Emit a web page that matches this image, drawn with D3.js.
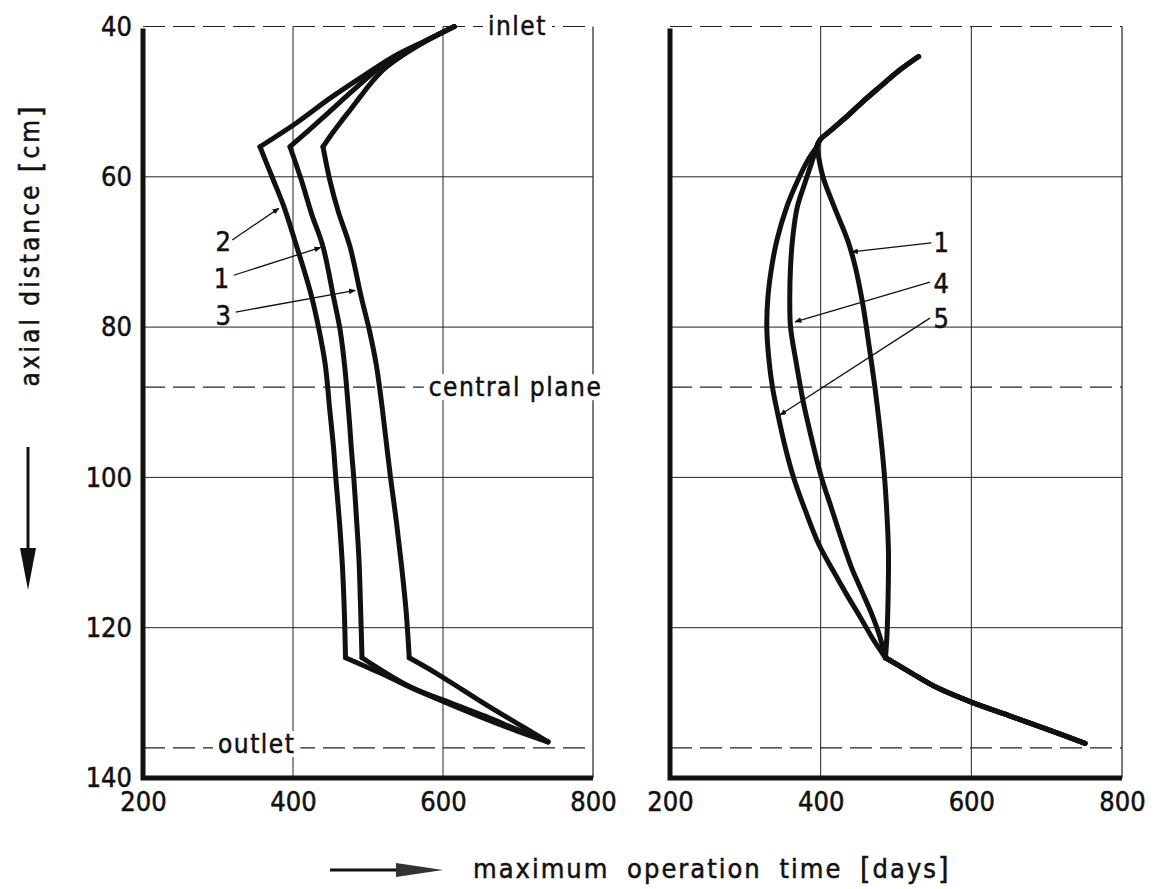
<!DOCTYPE html>
<html>
<head>
<meta charset="utf-8">
<script src="https://cdn.jsdelivr.net/npm/d3@7/dist/d3.min.js"></script>
<style>
body { margin: 0; background: #fff; }
text { font-family: "DejaVu Sans Condensed", "DejaVu Sans", sans-serif; font-stretch: condensed; fill: #111; stroke: #111; stroke-width: 0.5; }
</style>
</head>
<body>
<div id="canvas"></div>
<script>
"use strict"

let svgWidth = 1165
let svgHeight = 889

// ticks and reference depths
let timeTicks = [200, 400, 600, 800]
let depthTicks = [40, 60, 80, 100, 120, 140]
let gridTimes = [400, 600]
let gridDepths = [60, 80, 100, 120]
let dashedDepths = [40, 88, 136]   // inlet, central plane, outlet
let kinkDepths = [56, 124]

// left panel curves, points are [days, cm]
let leftCurve1 = [[615, 40], [575, 42], [540, 43.8], [514, 45.6], [480, 48.5], [438, 52.3], [396, 56],
    [411, 60.4], [425, 65], [440, 69.3], [454, 76], [463, 80.5], [469, 85.3], [475, 92.3], [478, 96.4],
    [481, 100], [485, 106], [488, 111], [490, 117], [492, 124],
    [557, 127.9], [610, 130], [657, 131.8], [700, 133.6], [740, 135.2]]
let leftCurve2 = [[615, 40], [575, 42], [538, 43.8], [495, 46.5], [450, 49.5], [405, 52.8], [356, 56],
    [372, 60], [388, 64], [405, 69.3], [415, 72.5], [425, 76], [435, 80.5], [443, 85], [449, 91],
    [454, 96], [457, 100], [462, 106], [466, 112], [468.5, 118], [470, 124],
    [520, 126.2], [562, 128.2], [612, 130.3], [661, 132.3], [700, 133.8], [740, 135.2]]
let leftCurve3 = [[615, 40], [580, 41.8], [545, 43.9], [522, 45.6], [505, 47.4], [490, 49.3], [477, 51],
    [463, 52.8], [451, 54.4], [440, 56],
    [449, 60.4], [460, 64.5], [476, 69.3], [491, 76], [502, 80.5], [511, 85], [518, 90], [524, 95],
    [530, 100], [538, 106], [545, 112], [551, 118], [555, 124],
    [590, 126], [625, 128.2], [660, 130.4], [700, 132.8], [740, 135.2]]

// right panel: shared top and bottom, three middle branches
let rightUpper = [[530, 44], [505, 45.8], [479, 48], [456, 50], [434.5, 52], [415, 53.7], [399, 55.1], [395, 56]]
let rightMiddle1 = [[403, 60], [418, 64], [436, 68.5], [446, 72], [456, 77], [465, 83], [472, 88], [478, 93],
    [484, 99], [488, 105], [490, 110], [489.5, 116], [488, 121]]
let rightMiddle4 = [[380.5, 60.4], [369, 64], [363, 68], [360, 72], [359, 76], [360, 80], [368, 85], [377, 90],
    [386, 94], [401, 100], [414, 104], [427, 108], [441, 112], [454, 115], [467, 118], [478, 121]]
let rightMiddle5 = [[383, 57.8], [370, 60.4], [355, 64], [342, 68.4], [335, 72], [330, 76], [328.5, 80], [331, 84],
    [336, 88], [344, 92], [353, 96], [364, 100], [380, 104.5], [398, 109], [417, 112.5], [434, 115.5],
    [452, 118.5], [470, 121.6]]
let rightLower = [[486, 124], [520, 126], [555, 128], [600, 129.9], [650, 131.7], [700, 133.5], [751, 135.4]]

let rightCurve1 = rightUpper.concat(rightMiddle1, rightLower)
let rightCurve4 = rightUpper.concat(rightMiddle4, rightLower)
let rightCurve5 = rightUpper.concat(rightMiddle5, rightLower)

// curve labels: name, label point, leader start, leader tip (days, cm)
let leftLabels = [
    ["2", [307, 68.6], [319, 68.4], [381, 64.2]],
    ["1", [304.5, 73.5], [321, 73.1], [437, 69.4]],
    ["3", [307, 78.4], [323.6, 78], [483, 75.1]]
]
let rightLabels = [
    ["1", [560, 68.8], [547, 68.8], [441, 70]],
    ["4", [560, 74.2], [545, 74], [366, 79.3]],
    ["5", [560, 78.8], [545, 78.8], [346, 91.7]]
]

let yScale = d3.scaleLinear().domain([40, 140]).range([26.5, 778])
let xLeft = d3.scaleLinear().domain([200, 800]).range([143, 593])
let xRight = d3.scaleLinear().domain([200, 800]).range([670, 1122])

let svg = d3.select("#canvas")
    .append("svg")
    .attr("width", svgWidth)
    .attr("height", svgHeight)

svg.append("defs").append("marker")
    .attr("id", "tip")
    .attr("viewBox", "0 0 10 10")
    .attr("refX", 9)
    .attr("refY", 5)
    .attr("markerWidth", 7)
    .attr("markerHeight", 7)
    .attr("markerUnits", "userSpaceOnUse")
    .attr("orient", "auto")
    .append("path")
    .attr("d", "M0,1 L10,5 L0,9 Z")
    .attr("fill", "#111")

function splitAtKinks(points) {
    let segments = [[]]
    points.forEach(function (p, i) {
        segments[segments.length - 1].push(p)
        if (kinkDepths.includes(p[1]) && i > 0 && i < points.length - 1) {
            segments.push([p])
        }
    })
    return segments
}

function labelBox(text, x, y, size) {
    let t = svg.append("text")
        .attr("x", x)
        .attr("y", y)
        .attr("dominant-baseline", "central")
        .attr("font-size", size)
        .attr("letter-spacing", 1.5)
        .text(text)
    let b = t.node().getBBox()
    svg.insert("rect", () => t.node())
        .attr("x", b.x - 5)
        .attr("y", b.y + 2)
        .attr("width", b.width + 10)
        .attr("height", b.height - 4)
        .attr("fill", "#fff")
}

function drawPanel(x, curves, labels) {
    let g = svg.append("g")
    let x0 = x(200), x1 = x(800)

    g.selectAll("line.vgrid")
        .data(gridTimes)
        .join("line")
        .attr("x1", d => x(d)).attr("x2", d => x(d))
        .attr("y1", yScale(40)).attr("y2", yScale(140))
        .attr("stroke", "#222").attr("stroke-width", 1)

    g.selectAll("line.hgrid")
        .data(gridDepths)
        .join("line")
        .attr("x1", x0).attr("x2", x1)
        .attr("y1", d => yScale(d)).attr("y2", d => yScale(d))
        .attr("stroke", "#222").attr("stroke-width", 1)

    g.selectAll("line.dash")
        .data(dashedDepths)
        .join("line")
        .attr("x1", x0).attr("x2", x1)
        .attr("y1", d => yScale(d)).attr("y2", d => yScale(d))
        .attr("stroke", "#222").attr("stroke-width", 1.2)
        .attr("stroke-dasharray", "22,8")

    // right border
    g.append("line")
        .attr("x1", x1).attr("x2", x1)
        .attr("y1", yScale(40)).attr("y2", yScale(140))
        .attr("stroke", "#222").attr("stroke-width", 1.2)

    // thick left and bottom axes
    g.append("path")
        .attr("d", `M${x0},${yScale(40) + 2} L${x0},${yScale(140)} L${x1},${yScale(140)}`)
        .attr("fill", "none").attr("stroke", "#111").attr("stroke-width", 5)

    let line = d3.line()
        .x(d => x(d[0]))
        .y(d => yScale(d[1]))
        .curve(d3.curveCatmullRom.alpha(0.5))

    curves.forEach(function (c) {
        g.selectAll(null)
            .data(splitAtKinks(c))
            .join("path")
            .attr("d", line)
            .attr("fill", "none")
            .attr("stroke", "#111")
            .attr("stroke-width", 5)
            .attr("stroke-linecap", "round")
            .attr("stroke-linejoin", "round")
    })

    g.selectAll("line.leader")
        .data(labels)
        .join("line")
        .attr("x1", d => x(d[2][0])).attr("y1", d => yScale(d[2][1]))
        .attr("x2", d => x(d[3][0])).attr("y2", d => yScale(d[3][1]))
        .attr("stroke", "#111").attr("stroke-width", 1.3)
        .attr("marker-end", "url(#tip)")

    g.selectAll("text.curveName")
        .data(labels)
        .join("text")
        .attr("x", d => x(d[1][0]))
        .attr("y", d => yScale(d[1][1]))
        .attr("text-anchor", "middle")
        .attr("dominant-baseline", "central")
        .attr("font-size", 27)
        .text(d => d[0])

    let xAxis = svg.append("g")
        .attr("transform", `translate(0, ${yScale(140)})`)
        .call(d3.axisBottom(x).tickValues(timeTicks).tickSize(0).tickPadding(14))
    xAxis.select(".domain").remove()
    xAxis.selectAll("text").attr("font-size", 27).attr("font-family", null).style("fill", "#111")
}

drawPanel(xLeft, [leftCurve1, leftCurve2, leftCurve3], leftLabels)
drawPanel(xRight, [rightCurve1, rightCurve4, rightCurve5], rightLabels)

let yAxis = svg.append("g")
    .attr("transform", `translate(${xLeft(200)}, 0)`)
    .call(d3.axisLeft(yScale).tickValues(depthTicks).tickSize(0).tickPadding(11))
yAxis.select(".domain").remove()
yAxis.selectAll("text").attr("font-size", 27).attr("font-family", null).style("fill", "#111")

// plane annotations
labelBox("inlet", xLeft(660), yScale(40) - 1, 26)
labelBox("central plane", xLeft(581), yScale(88), 26)
labelBox("outlet", xLeft(300), yScale(136) - 4, 26)

// axis titles
let yTitle = svg.append("text")
    .attr("transform", "translate(30, 245) rotate(-90)")
    .attr("text-anchor", "middle")
    .attr("dominant-baseline", "central")
    .attr("font-size", 26)
    .attr("letter-spacing", 3)
yTitle.append("tspan").text("axial distance ")
yTitle.append("tspan").attr("font-size", 30).text("[")
yTitle.append("tspan").text("cm")
yTitle.append("tspan").attr("font-size", 30).text("]")

svg.append("line")
    .attr("x1", 28).attr("x2", 28).attr("y1", 447).attr("y2", 552)
    .attr("stroke", "#111").attr("stroke-width", 3)
svg.append("path")
    .attr("d", "M20,548 L36,548 L28,590 Z")
    .attr("fill", "#111")

svg.append("line")
    .attr("x1", 330).attr("x2", 400).attr("y1", 870).attr("y2", 870)
    .attr("stroke", "#111").attr("stroke-width", 3)
svg.append("path")
    .attr("d", "M396,863 L443,870 L396,877 Z")
    .attr("fill", "#333")

let xTitle = svg.append("text")
    .attr("x", 473)
    .attr("y", 868)
    .attr("dominant-baseline", "central")
    .attr("font-size", 27)
    .attr("letter-spacing", 2)
    .attr("word-spacing", 8)
xTitle.append("tspan").text("maximum operation time ")
xTitle.append("tspan").attr("font-size", 30).text("[")
xTitle.append("tspan").text("days")
xTitle.append("tspan").attr("font-size", 30).text("]")
</script>
</body>
</html>
